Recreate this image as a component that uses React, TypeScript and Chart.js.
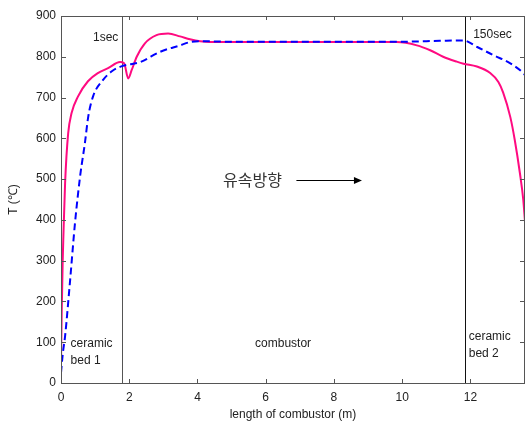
import React, { useEffect, useRef } from 'react';
import { Chart, registerables } from 'chart.js';
Chart.register(...registerables);

// 1sec profile (solid magenta)
const pinkX = [0, 0.02, 0.05, 0.07, 0.12, 0.21, 0.31, 0.5, 0.79, 1.08, 1.38, 1.73, 1.85, 1.97, 2.07, 2.22, 2.46, 2.8, 3.14, 3.49, 3.78, 4.08, 4.37, 5, 6, 7, 8, 9, 9.84, 10.43, 10.82, 11.2, 11.6, 11.8, 12.19, 12.58, 12.82, 12.96, 13.17, 13.3, 13.45, 13.55, 13.6];
const pinkY = [50, 170, 300, 360, 490, 612, 662, 703, 740, 760, 772, 787, 784, 747, 767, 800, 833, 853, 857, 850, 843, 838, 836, 836, 836, 836, 836, 836, 836, 828, 816, 800, 788, 783, 776, 760, 738, 712, 652, 596, 515, 449, 395];

// 150sec profile (dashed blue)
const blueX = [0, 0.05, 0.12, 0.26, 0.41, 0.56, 0.7, 0.8, 0.94, 1.2, 1.5, 1.79, 2.32, 2.9, 3.49, 3.78, 4.1, 5, 6, 7, 8, 9, 10, 11.1, 11.8, 12.2, 12.67, 13.17, 13.55, 13.6];
const blueY = [25, 70, 115, 245, 392, 507, 588, 654, 703, 740, 765, 777, 787, 812, 828, 836, 838, 837, 837, 837, 837, 837, 837, 839, 840, 824, 804, 784, 760, 755];

const xTickValues = [0, 2, 4, 6, 8, 10, 12];
const yTickValues = [0, 100, 200, 300, 400, 500, 600, 700, 800, 900];
const dividerX = [1.79, 11.85];

const noteTexts = ['1sec', '150sec', 'ceramic', 'bed 1', 'combustor', 'ceramic', 'bed 2'];
const noteX = [1.68, 12.08, 0.28, 0.28, 6.51, 11.95, 11.95];
const noteY = [848, 854, 97, 55, 97, 113, 73];
const noteAlign = ['right', 'left', 'left', 'left', 'center', 'left', 'left'];

const flowLabel = '유속방향';
const flowLabelX = 4.75;
const flowArrowX = [6.9, 8.82];
const flowY = 498;

const X_MAX = 13.6;
const Y_MAX = 900;

function toPoints(xs: number[], ys: number[]) {
  return xs.map((x, i) => ({ x, y: ys[i] }));
}

const boxPlugin = {
  id: 'boxPlugin',
  beforeDatasetsDraw(chart: any) {
    const { ctx, chartArea, scales } = chart;
    const xs = scales.x;
    ctx.save();
    dividerX.forEach((v, i) => {
      const px = Math.round(xs.getPixelForValue(v)) + 0.5;
      ctx.strokeStyle = i === 0 ? '#555' : '#111';
      ctx.lineWidth = 1;
      ctx.beginPath();
      ctx.moveTo(px, chartArea.top);
      ctx.lineTo(px, chartArea.bottom);
      ctx.stroke();
    });
    ctx.restore();
  },
  afterDatasetsDraw(chart: any) {
    const { ctx, chartArea, scales } = chart;
    const xs = scales.x;
    const ys = scales.y;
    const { left, right, top, bottom } = chartArea;
    ctx.save();
    ctx.strokeStyle = '#555';
    ctx.lineWidth = 1;
    ctx.beginPath();
    ctx.rect(Math.round(left) + 0.5, Math.round(top) + 0.5, Math.round(right - left) - 1, Math.round(bottom - top));
    ctx.stroke();
    ctx.beginPath();
    xTickValues.forEach((v) => {
      const px = Math.round(xs.getPixelForValue(v)) + 0.5;
      ctx.moveTo(px, bottom);
      ctx.lineTo(px, bottom - 4);
      ctx.moveTo(px, top);
      ctx.lineTo(px, top + 4);
    });
    yTickValues.forEach((v) => {
      const py = Math.round(ys.getPixelForValue(v)) + 0.5;
      ctx.moveTo(left, py);
      ctx.lineTo(left + 5, py);
      ctx.moveTo(right, py);
      ctx.lineTo(right - 5, py);
    });
    ctx.stroke();

    // annotations
    ctx.fillStyle = '#222';
    ctx.textBaseline = 'middle';
    ctx.font = '12px "Liberation Sans", Arial, sans-serif';
    noteTexts.forEach((t, i) => {
      ctx.textAlign = noteAlign[i] as CanvasTextAlign;
      ctx.fillText(t, xs.getPixelForValue(noteX[i]), ys.getPixelForValue(noteY[i]));
    });

    ctx.font = '16px "Noto Sans CJK KR", sans-serif';
    ctx.fillStyle = '#333';
    ctx.textAlign = 'left';
    const fy = ys.getPixelForValue(flowY);
    ctx.fillText(flowLabel, xs.getPixelForValue(flowLabelX), fy);

    const ax0 = xs.getPixelForValue(flowArrowX[0]);
    const ax1 = xs.getPixelForValue(flowArrowX[1]);
    const ay = Math.round(fy) + 0.5;
    ctx.strokeStyle = '#000';
    ctx.beginPath();
    ctx.moveTo(ax0, ay);
    ctx.lineTo(ax1 - 6, ay);
    ctx.stroke();
    ctx.fillStyle = '#000';
    ctx.beginPath();
    ctx.moveTo(ax1, ay);
    ctx.lineTo(ax1 - 8, ay - 3.5);
    ctx.lineTo(ax1 - 8, ay + 3.5);
    ctx.closePath();
    ctx.fill();
    ctx.restore();
  },
};

export default function App() {
  const ref = useRef<HTMLCanvasElement | null>(null);
  useEffect(() => {
    if (!ref.current) return;
    const chart = new Chart(ref.current, {
      type: 'line',
      data: {
        datasets: [
          {
            label: '150sec',
            data: toPoints(blueX, blueY),
            borderColor: '#0000FF',
            borderWidth: 2,
            borderDash: [7, 4],
            pointRadius: 0,
            fill: false,
            cubicInterpolationMode: 'monotone',
            order: 1,
          },
          {
            label: '1sec',
            data: toPoints(pinkX, pinkY),
            borderColor: '#FF0A80',
            borderWidth: 2,
            pointRadius: 0,
            fill: false,
            cubicInterpolationMode: 'monotone',
            order: 2,
          },
        ],
      },
      options: {
        responsive: false,
        animation: false,
        events: [],
        layout: { padding: { top: 16, right: 1, left: 0, bottom: 0 } },
        plugins: { legend: { display: false }, tooltip: { enabled: false } },
        scales: {
          x: {
            type: 'linear',
            min: 0,
            max: X_MAX,
            grid: { display: false, drawTicks: false },
            border: { display: false },
            afterBuildTicks: (s: any) => {
              s.ticks = xTickValues.map((v) => ({ value: v }));
            },
            afterFit: (s: any) => {
              s.height = 42;
            },
            ticks: {
              padding: 7,
              color: '#222',
              maxRotation: 0,
              font: { family: '"Liberation Sans", Arial, sans-serif', size: 12 },
            },
            title: {
              display: true,
              text: 'length of combustor (m)',
              color: '#222',
              padding: { top: 0, bottom: 3 },
              font: { family: '"Liberation Sans", Arial, sans-serif', size: 12 },
            },
          },
          y: {
            type: 'linear',
            min: 0,
            max: Y_MAX,
            grid: { display: false, drawTicks: false },
            border: { display: false },
            afterBuildTicks: (s: any) => {
              s.ticks = yTickValues.map((v) => ({ value: v }));
            },
            afterFit: (s: any) => {
              s.width = 61;
            },
            ticks: {
              padding: 5,
              color: '#222',
              font: { family: '"Liberation Sans", Arial, sans-serif', size: 12 },
            },
            title: {
              display: true,
              text: 'T (℃)',
              color: '#222',
              padding: { top: 6, bottom: 4 },
              font: { family: '"Liberation Sans", Arial, sans-serif', size: 12 },
            },
          },
        },
      },
      plugins: [boxPlugin],
    } as any);
    return () => chart.destroy();
  }, []);
  return (
    <div style={{ position: 'fixed', left: 0, top: 0, width: 526, height: 425, background: '#fff' }}>
      <canvas ref={ref} width={526} height={425} style={{ display: 'block' }} />
    </div>
  );
}
